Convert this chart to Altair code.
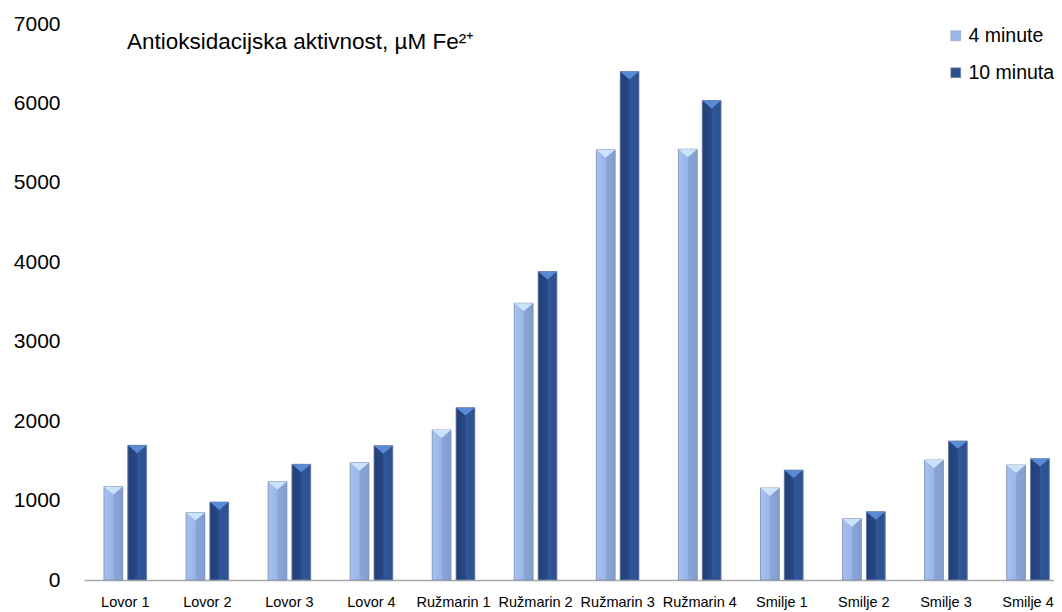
import altair as alt
import pandas as pd

categories = ["Lovor 1", "Lovor 2", "Lovor 3", "Lovor 4",
              "Ružmarin 1", "Ružmarin 2", "Ružmarin 3", "Ružmarin 4",
              "Smilje 1", "Smilje 2", "Smilje 3", "Smilje 4"]
series = ["4 minute", "10 minuta"]
values_4min = [1175, 848, 1238, 1477, 1889, 3485, 5416, 5424, 1159, 772, 1511, 1448]
values_10min = [1696, 982, 1457, 1691, 2170, 3883, 6402, 6037, 1385, 860, 1751, 1528]
y_ticks = [0, 1000, 2000, 3000, 4000, 5000, 6000, 7000]
title_text = "Antioksidacijska aktivnost, µM Fe²⁺"

rows = []
for c, a, b in zip(categories, values_4min, values_10min):
    rows.append({"cat": c, "series": series[0], "value": a})
    rows.append({"cat": c, "series": series[1], "value": b})
df = pd.DataFrame(rows)

FONT = "Liberation Sans"

base = alt.Chart(df).encode(
    x=alt.X("cat:N", sort=categories,
            scale=alt.Scale(paddingInner=0.48, paddingOuter=0.15, align=0.81),
            axis=alt.Axis(title=None, labelAngle=0, ticks=False, tickSize=0,
                          domain=True, domainColor="#a8a8a8", domainWidth=1.5,
                          labelFontSize=14.5, labelPadding=15, labelColor="black",
                          labelFont=FONT, grid=False)),
    xOffset=alt.XOffset("series:N", sort=series,
                        scale=alt.Scale(paddingInner=0.21, paddingOuter=0)),
    y=alt.Y("value:Q", scale=alt.Scale(domain=[0, 7000], nice=False),
            axis=alt.Axis(title=None, values=y_ticks, format="d", domain=False,
                          ticks=False, tickSize=0, grid=False, labelFontSize=21,
                          labelPadding=24, labelColor="black", labelFont=FONT)),
)

bars = base.mark_bar().encode(
    color=alt.Color("series:N", sort=series,
                    scale=alt.Scale(domain=series, range=["#9cb7e8", "#2c4e8c"]),
                    legend=alt.Legend(title=None, orient="none", legendX=862, legendY=2,
                                      symbolType="square", symbolSize=100,
                                      symbolStrokeColor="#8899b0", symbolStrokeWidth=0.5,
                                      labelFontSize=19.5, labelFont=FONT, labelColor="black",
                                      labelOffset=3, rowPadding=16, padding=0))
)

grad_light = alt.Gradient(
    gradient="linear", x1=0, x2=1, y1=0, y2=0,
    stops=[alt.GradientStop(offset=0, color="#a7c1f0"),
           alt.GradientStop(offset=0.48, color="#9ab5e8"),
           alt.GradientStop(offset=0.52, color="#8aa6d8"),
           alt.GradientStop(offset=1, color="#819dcd")])
grad_dark = alt.Gradient(
    gradient="linear", x1=0, x2=1, y1=0, y2=0,
    stops=[alt.GradientStop(offset=0, color="#223f78"),
           alt.GradientStop(offset=0.48, color="#274884"),
           alt.GradientStop(offset=0.52, color="#2f5696"),
           alt.GradientStop(offset=1, color="#2c5190")])

light_bars = base.transform_filter(alt.datum.series == series[0]).mark_bar(
    fill=grad_light, stroke="#8292b0", strokeWidth=0.8)
dark_bars = base.transform_filter(alt.datum.series == series[1]).mark_bar(
    fill=grad_dark, stroke="#7d8cab", strokeWidth=0.8)

tops = base.mark_point(shape="M-1,0L1,0L0,0.85Z", filled=True, size=350,
                       opacity=1, strokeWidth=0).encode(
    fill=alt.condition(alt.datum.series == series[0],
                       alt.value("#cde3fc"), alt.value("#5b8ad4"))
)

chart = alt.layer(bars, light_bars, dark_bars, tops).properties(
    width=970, height=556,
    autosize=alt.AutoSizeParams(type="none"),
    padding={"left": 76, "top": 16, "right": 0, "bottom": 30},
    title=alt.TitleParams(title_text, anchor="start", frame="group", dx=43,
                          offset=-40, fontSize=22.5, font=FONT, fontWeight="normal",
                          color="black"),
).configure_view(stroke=None)

chart.save("out.html", embed_options={"renderer": "svg", "actions": False})
